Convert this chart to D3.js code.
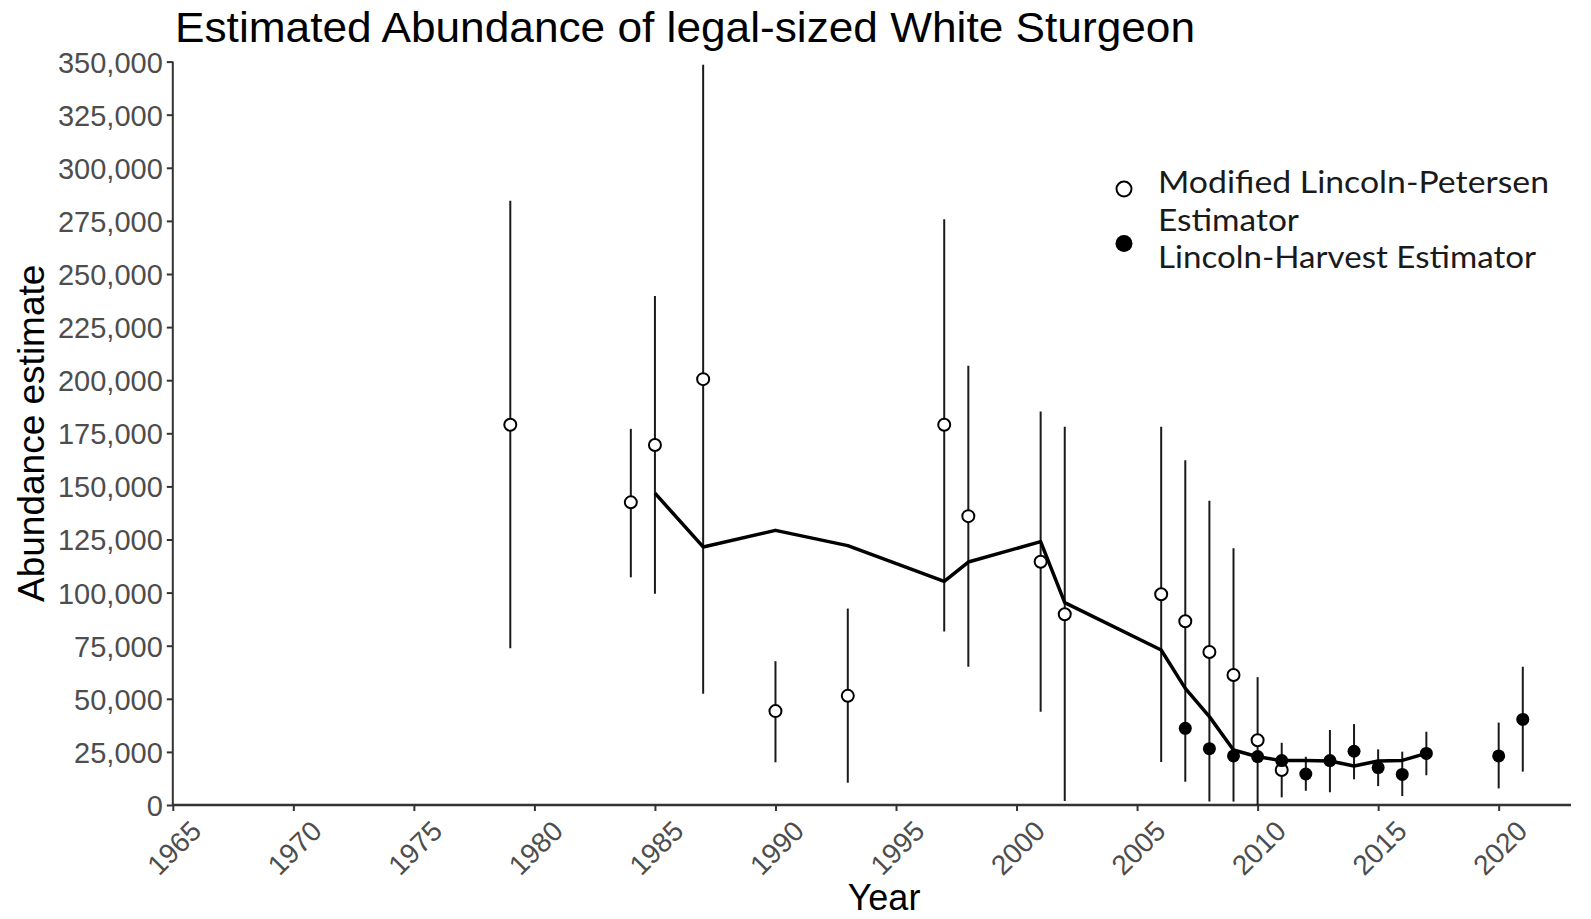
<!DOCTYPE html>
<html>
<head>
<meta charset="utf-8">
<script src="https://cdn.jsdelivr.net/npm/d3@7"></script>
<style>
  body { margin: 0; background: #fff; }
  svg { display: block; }
</style>
</head>
<body>
<svg id="chart" width="1591" height="919"></svg>
<script>
// ---- Data ----
const mlpYears = [1979, 1984, 1985, 1987, 1990, 1993, 1997, 1998, 2001, 2002, 2006, 2007, 2008, 2009, 2010, 2011];
const mlpValues = [179000, 142500, 169500, 200500, 44200, 51400, 179000, 136000, 114500, 89800, 99200, 86500, 72000, 61200, 30500, 16500];
const mlpLower = [73800, 107200, 99400, 52400, 20100, 10500, 81700, 65100, 43900, 1900, 20300, 11000, 1600, 1600, 0, 3600];
const mlpUpper = [284500, 177100, 239600, 348500, 67700, 92500, 275800, 206800, 185300, 178100, 178100, 162300, 143200, 120900, 60200, 29300];

const lheYears = [2007, 2008, 2009, 2010, 2011, 2012, 2013, 2014, 2015, 2016, 2017, 2020, 2021];
const lheValues = [36100, 26500, 23100, 22800, 20900, 14600, 20900, 25300, 17600, 14400, 24300, 23100, 40300];
const lheLower = [null, null, null, null, null, 6700, 6000, 12100, 8900, 4200, 14000, 7800, 15700];
const lheUpper = [null, null, null, null, null, 22700, 35300, 38100, 26200, 25100, 34500, 38800, 65100];

const trendYears = [1985, 1987, 1990, 1993, 1997, 1998, 2001, 2002, 2006, 2007, 2008, 2009, 2010, 2011, 2012, 2013, 2014, 2015, 2016, 2017];
const trendValues = [146800, 121500, 129300, 122100, 105300, 114400, 124000, 95300, 73000, 54900, 41600, 25900, 22700, 20900, 20900, 20700, 18400, 20700, 21000, 24300];

const xTicks = [1965, 1970, 1975, 1980, 1985, 1990, 1995, 2000, 2005, 2010, 2015, 2020];
const yTicks = [0, 25000, 50000, 75000, 100000, 125000, 150000, 175000, 200000, 225000, 250000, 275000, 300000, 325000, 350000];

const titleText = "Estimated Abundance of legal-sized White Sturgeon";
const xLabel = "Year";
const yLabel = "Abundance estimate";
const legendLabels = [["Modified Lincoln-Petersen", "Estimator"], ["Lincoln-Harvest Estimator"]];

// ---- Layout ----
const svg = d3.select("#chart");
const x = d3.scaleLinear().domain([1965, 2023]).range([172.8, 1571]);
const y = d3.scaleLinear().domain([0, 350000]).range([805, 61.6]);

const axisFont = "'Liberation Sans', Arial, sans-serif";
const gray = "#4d4d4d";
const axisCol = "#333";

// Title
svg.append("text")
  .attr("x", 175).attr("y", 42)
  .attr("font-family", axisFont).attr("font-size", 43)
  .attr("textLength", 1020).attr("lengthAdjust", "spacingAndGlyphs")
  .attr("fill", "#000")
  .text(titleText);

// Y axis
const yAxis = d3.axisLeft(y).tickValues(yTicks).tickFormat(d3.format(",")).tickSize(6).tickPadding(4);
const gy = svg.append("g").attr("transform", `translate(${x(1965)},0)`).call(yAxis);
gy.select(".domain").attr("stroke", axisCol).attr("stroke-width", 2).attr("d", `M0,${y(350000)}V${y(0)}`);
gy.selectAll(".tick line").attr("stroke", axisCol).attr("stroke-width", 2);
gy.selectAll(".tick text").attr("font-family", axisFont).attr("font-size", 29).attr("fill", gray).attr("dy", "0.36em");

// X axis
const xAxis = d3.axisBottom(x).tickValues(xTicks).tickFormat(d3.format("d")).tickSize(6);
const gx = svg.append("g").attr("transform", `translate(0,${y(0)})`).call(xAxis);
gx.select(".domain").attr("stroke", axisCol).attr("stroke-width", 2.5).attr("d", `M${x(1965)},0H${x(2023)}`);
gx.selectAll(".tick line").attr("stroke", axisCol).attr("stroke-width", 2);
gx.selectAll(".tick text")
  .attr("font-family", axisFont).attr("font-size", 28).attr("fill", gray)
  .attr("text-anchor", "middle").attr("dominant-baseline", "central")
  .attr("x", 0).attr("y", 0).attr("dy", null)
  .attr("transform", "translate(1,43) rotate(-45)");

// Axis titles
svg.append("text")
  .attr("x", 884).attr("y", 910)
  .attr("text-anchor", "middle")
  .attr("font-family", axisFont).attr("font-size", 36).attr("fill", "#000")
  .text(xLabel);
svg.append("text")
  .attr("transform", `translate(44,${y(175000)}) rotate(-90)`)
  .attr("text-anchor", "middle")
  .attr("font-family", axisFont).attr("font-size", 37).attr("fill", "#000")
  .text(yLabel);

// Error bars
const barCol = "#1a1a1a";
const mlp = mlpYears.map((yr, i) => ({yr, v: mlpValues[i], lo: mlpLower[i], hi: mlpUpper[i]}));
const lhe = lheYears.map((yr, i) => ({yr, v: lheValues[i], lo: lheLower[i], hi: lheUpper[i]}));

svg.append("g").selectAll("line").data(mlp.concat(lhe.filter(d => d.lo !== null))).join("line")
  .attr("x1", d => x(d.yr)).attr("x2", d => x(d.yr))
  .attr("y1", d => y(d.lo)).attr("y2", d => y(d.hi))
  .attr("stroke", barCol).attr("stroke-width", 2);

// Trend line
const line = d3.line().x(d => x(d[0])).y(d => y(d[1]));
svg.append("path")
  .datum(trendYears.map((yr, i) => [yr, trendValues[i]]))
  .attr("d", line)
  .attr("fill", "none").attr("stroke", "#000").attr("stroke-width", 3.5)
  .attr("stroke-linejoin", "round");

// Points
svg.append("g").selectAll("circle").data(mlp).join("circle")
  .attr("cx", d => x(d.yr)).attr("cy", d => y(d.v)).attr("r", 6)
  .attr("fill", "#fff").attr("stroke", "#000").attr("stroke-width", 2);
svg.append("g").selectAll("circle").data(lhe).join("circle")
  .attr("cx", d => x(d.yr)).attr("cy", d => y(d.v)).attr("r", 6.5)
  .attr("fill", "#000");

// Legend
const legFont = "Lato, 'Open Sans', sans-serif";
const leg = svg.append("g");
leg.append("circle").attr("cx", 1124).attr("cy", 189).attr("r", 7.5)
  .attr("fill", "#fff").attr("stroke", "#000").attr("stroke-width", 2);
leg.append("circle").attr("cx", 1124).attr("cy", 243.5).attr("r", 8.5).attr("fill", "#000");
const legLines = [[legendLabels[0][0], 193, 391], [legendLabels[0][1], 231, 141], [legendLabels[1][0], 268, 378]];
leg.selectAll("text").data(legLines).join("text")
  .attr("x", 1158).attr("y", d => d[1])
  .attr("font-family", legFont).attr("font-size", 30).attr("fill", "#1a1a1a")
  .attr("textLength", d => d[2]).attr("lengthAdjust", "spacingAndGlyphs")
  .text(d => d[0]);
</script>
</body>
</html>
